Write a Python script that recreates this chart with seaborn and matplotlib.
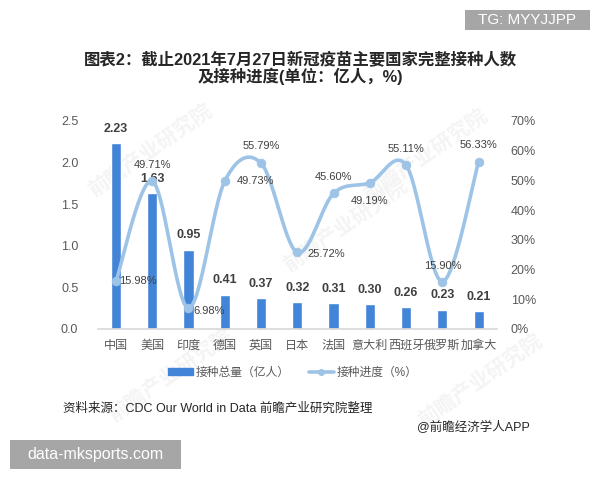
import numpy as np
import pandas as pd
import matplotlib
matplotlib.use("Agg")
import matplotlib.pyplot as plt
import seaborn as sns
from matplotlib.patches import Patch, Rectangle
from matplotlib.lines import Line2D

countries = ["中国", "美国", "印度", "德国", "英国", "日本", "法国", "意大利", "西班牙", "俄罗斯", "加拿大"]
total = [2.23, 1.63, 0.95, 0.41, 0.37, 0.32, 0.31, 0.30, 0.26, 0.23, 0.21]
progress = [15.98, 49.71, 6.98, 49.73, 55.79, 25.72, 45.60, 49.19, 55.11, 15.90, 56.33]

sns.set_theme(style="white")
plt.rcParams["font.family"] = ["Liberation Sans", "Noto Sans CJK SC", "DejaVu Sans"]

bar_color = "#4285d8"
line_color = "#9dc3e6"
tick_color = "#595959"
label_color = "#404040"

df = pd.DataFrame({"country": countries, "total": total, "progress": progress})

fig = plt.figure(figsize=(6, 4.8), dpi=100)

# faint watermarks behind the chart
for (wx, wy) in [(150, 150), (345, 225), (425, 155), (170, 375), (480, 380)]:
    fig.text(wx / 600, 1 - wy / 480, "前瞻产业研究院", ha="center", va="center",
             fontsize=15, fontweight="bold", rotation=35, color="#f4f4f4", zorder=-5)

ax = fig.add_axes([0.163, 0.315, 0.665, 0.433])
ax.patch.set_alpha(0)

sns.barplot(data=df, x="country", y="total", color=bar_color, width=0.28,
            saturation=1, ax=ax)
ax.set_ylim(0, 2.5)
ax.set_xlim(-0.5, len(countries) - 0.5)
ax.set_yticks(np.arange(0, 2.51, 0.5))
ax.set_yticklabels([f"{v:.1f}" for v in np.arange(0, 2.51, 0.5)])
ax.set_xlabel("")
ax.set_ylabel("")
for s in ["top", "right", "left"]:
    ax.spines[s].set_visible(False)
ax.spines["bottom"].set_color("#d9d9d9")
ax.tick_params(axis="both", length=0, colors=tick_color, labelsize=9)
ax.tick_params(axis="x", pad=8, labelsize=8.7)
ax.tick_params(axis="y", pad=14)

for i, v in enumerate(total):
    ax.annotate(f"{v:.2f}", (i, v), xytext=(0, 6), textcoords="offset points",
                ha="center", va="bottom", fontsize=9, fontweight="bold",
                color=label_color)

# smoothed line (Excel-style bezier through the points)
ax2 = ax.twinx()
ax2.patch.set_alpha(0)
xs = np.arange(len(progress), dtype=float)
ys = np.array(progress, dtype=float)
px = np.concatenate([[xs[0]], xs, [xs[-1]]])
py = np.concatenate([[ys[0]], ys, [ys[-1]]])
cx, cy = [], []
t = np.linspace(0, 1, 30)
for k in range(len(xs) - 1):
    p0 = np.array([px[k], py[k]])
    p1 = np.array([px[k + 1], py[k + 1]])
    p2 = np.array([px[k + 2], py[k + 2]])
    p3 = np.array([px[k + 3], py[k + 3]])
    c1 = p1 + (p2 - p0) / 6
    c2 = p2 - (p3 - p1) / 6
    pts = ((1 - t) ** 3)[:, None] * p1 + (3 * (1 - t) ** 2 * t)[:, None] * c1 \
        + (3 * (1 - t) * t ** 2)[:, None] * c2 + (t ** 3)[:, None] * p2
    cx.extend(pts[:, 0])
    cy.extend(pts[:, 1])
ax2.plot(cx, cy, color=line_color, lw=2.6, zorder=3)
sns.scatterplot(x=xs, y=ys, color=line_color, s=40, edgecolor=line_color,
                ax=ax2, zorder=4, legend=False)
ax2.set_ylim(0, 70)
ax2.set_yticks(np.arange(0, 71, 10))
ax2.set_yticklabels([f"{v}%" for v in range(0, 71, 10)])
for s in ["top", "right", "left", "bottom"]:
    ax2.spines[s].set_visible(False)
ax2.tick_params(axis="y", length=0, colors=tick_color, labelsize=9, pad=10)
ax2.grid(False)
ax.grid(False)

# label placements: (dx, dy) in points
offsets = [(16, 0), (0, 12), (15, -2), (22, 0), (0, 12), (21, -1),
           (0, 12), (0, -13), (0, 12), (0, 11), (0, 12)]
for i, (v, (dx, dy)) in enumerate(zip(progress, offsets)):
    ax2.annotate(f"{v:.2f}%", (i, v), xytext=(dx, dy), textcoords="offset points",
                 ha="center", va="center", fontsize=8, color=label_color, zorder=5)

# title
fig.text(0.5, 0.875, "图表2：截止2021年7月27日新冠疫苗主要国家完整接种人数",
         ha="center", va="center", fontsize=11.8, fontweight="bold", color="#262626")
fig.text(0.5, 0.842, "及接种进度(单位：亿人，%)",
         ha="center", va="center", fontsize=11.8, fontweight="bold", color="#262626")

handles = [Patch(facecolor=bar_color, edgecolor=bar_color),
           Line2D([0], [0], color=line_color, lw=2.6, marker="o", markersize=4)]
fig.legend(handles, ["接种总量（亿人）", "接种进度（%）"], loc="center",
           bbox_to_anchor=(0.488, 0.223), ncol=2, frameon=False, fontsize=8.5,
           labelcolor=tick_color, handlelength=2.1, handleheight=0.55,
           columnspacing=1.6, handletextpad=0.25)

fig.text(0.105, 0.148, "资料来源：CDC Our World in Data 前瞻产业研究院整理",
         ha="left", va="center", fontsize=9, color="#262626")
fig.text(0.695, 0.112, "@前瞻经济学人APP", ha="left", va="center",
         fontsize=9, color="#262626")

# grey tag boxes
fig.patches.append(Rectangle((465 / 600, 1 - 30 / 480), 125 / 600, 20 / 480,
                             transform=fig.transFigure, fc="#a6a6a6", ec="none"))
fig.text(527.5 / 600, 1 - 20 / 480, "TG: MYYJJPP", ha="center", va="center",
         fontsize=11, color="white")
fig.patches.append(Rectangle((10 / 600, 1 - 469 / 480), 171 / 600, 29 / 480,
                             transform=fig.transFigure, fc="#a6a6a6", ec="none"))
fig.text(95.5 / 600, 1 - 454.5 / 480, "data-mksports.com", ha="center", va="center",
         fontsize=11.5, color="white")

fig.savefig("out.png", dpi=100)
